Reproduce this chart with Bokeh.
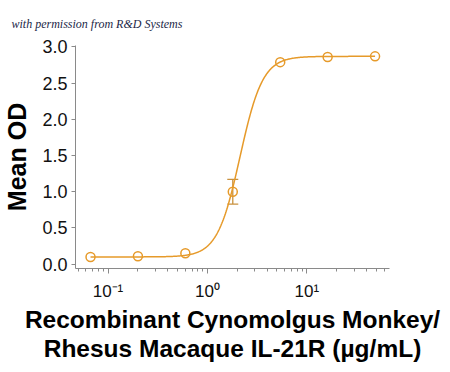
import numpy as np
from bokeh.plotting import figure
from bokeh.models import (Range1d, FixedTicker, PrintfTickFormatter, ColumnDataSource,
                          Whisker, TeeHead, Title)
from bokeh.embed import file_html
from bokeh.resources import INLINE

# ---- data ----
conc = [0.0667, 0.2, 0.6, 1.8, 5.4, 16.2, 48.6]          # µg/mL
mean_od = [0.10, 0.11, 0.15, 1.00, 2.79, 2.86, 2.87]
err = [0.0, 0.0, 0.0, 0.17, 0.0, 0.0, 0.0]

# 4-parameter logistic fit
fit_bottom = 0.10
fit_top = 2.87
fit_ec50 = 2.13
fit_hill = 3.8

x_ticks = [0.1, 1, 10]
x_tick_labels = ["10⁻¹", "10⁰", "10¹"]
x_minor = [0.05, 0.06, 0.07, 0.08, 0.09, 0.2, 0.3, 0.4, 0.5, 0.6, 0.7, 0.8, 0.9,
           2, 3, 4, 5, 6, 7, 8, 9, 20, 30, 40, 50, 60]
y_ticks = [0.0, 0.5, 1.0, 1.5, 2.0, 2.5, 3.0]
x_title = "Recombinant Cynomolgus Monkey/\nRhesus Macaque IL-21R (µg/mL)"

ORANGE = "#E69A2A"
AXIS = "#8a8a8a"

p = figure(width=442, height=364, x_axis_type="log",
           x_range=Range1d(0.0471, 67.9), y_range=Range1d(-0.06, 3.02),
           output_backend="svg", toolbar_location=None,
           min_border_left=70, min_border_right=53, min_border_top=0, min_border_bottom=0)
p.outline_line_color = None
p.grid.visible = False
p.background_fill_color = "white"

# curve
xs = np.logspace(np.log10(conc[0]), np.log10(conc[-1]), 400)
ys = fit_bottom + (fit_top - fit_bottom) / (1 + (fit_ec50 / xs) ** fit_hill)
p.line(xs, ys, line_color=ORANGE, line_width=1.5)

# error bars (only visible ones)
eb = [(c, m, e) for c, m, e in zip(conc, mean_od, err) if e > 0]
src_err = ColumnDataSource(dict(x=[c for c, _, _ in eb],
                                upper=[m + e for _, m, e in eb],
                                lower=[m - e for _, m, e in eb]))
wh = Whisker(base="x", upper="upper", lower="lower", source=src_err,
             line_color="#C8913E", line_width=1.3,
             upper_head=TeeHead(size=11, line_color="#C8913E", line_width=1.3),
             lower_head=TeeHead(size=11, line_color="#C8913E", line_width=1.3))
p.add_layout(wh)

p.scatter(conc, mean_od, marker="circle", size=9, fill_color=None,
          line_color=ORANGE, line_width=1.5)

# axes
xa = p.xaxis[0]
xa.ticker = FixedTicker(ticks=x_ticks, minor_ticks=x_minor)
xa.major_label_overrides = {t: l for t, l in zip(x_ticks, x_tick_labels)}
xa.major_label_text_font = "Liberation Sans"
xa.major_label_text_font_size = "17px"
xa.major_label_text_color = "#111111"
xa.major_label_standoff = 8
xa.major_tick_in = 0
xa.major_tick_out = 5
xa.minor_tick_in = 0
xa.minor_tick_out = 3
xa.axis_label = x_title
xa.axis_label_text_font = "Liberation Sans"
xa.axis_label_text_font_style = "bold"
xa.axis_label_text_font_size = "24.5px"
xa.axis_label_text_line_height = 1.08
xa.axis_label_text_color = "black"
xa.axis_label_standoff = 2

ya = p.yaxis[0]
ya.ticker = FixedTicker(ticks=y_ticks)
ya.formatter = PrintfTickFormatter(format="%.1f")
ya.axis_label = "Mean OD"
ya.axis_label_text_font = "Liberation Sans"
ya.axis_label_text_font_style = "bold"
ya.axis_label_text_font_size = "25px"
ya.axis_label_text_color = "black"
ya.axis_label_standoff = 8
ya.major_label_text_font = "Liberation Sans"
ya.major_label_text_font_size = "18px"
ya.major_label_text_color = "#111111"
ya.major_label_standoff = 4
ya.major_tick_in = 0
ya.major_tick_out = 4

for ax in (xa, ya):
    ax.axis_line_color = AXIS
    ax.major_tick_line_color = AXIS
xa.minor_tick_line_color = AXIS
ya.minor_tick_line_color = None

p.add_layout(Title(text="with permission from R&D Systems", align="left", offset=-64,
                   standoff=29,
                   text_font="Liberation Serif", text_font_style="italic",
                   text_font_size="12px", text_color="#1c2747"), "above")

open("out.html", "w").write(file_html(p, INLINE))
